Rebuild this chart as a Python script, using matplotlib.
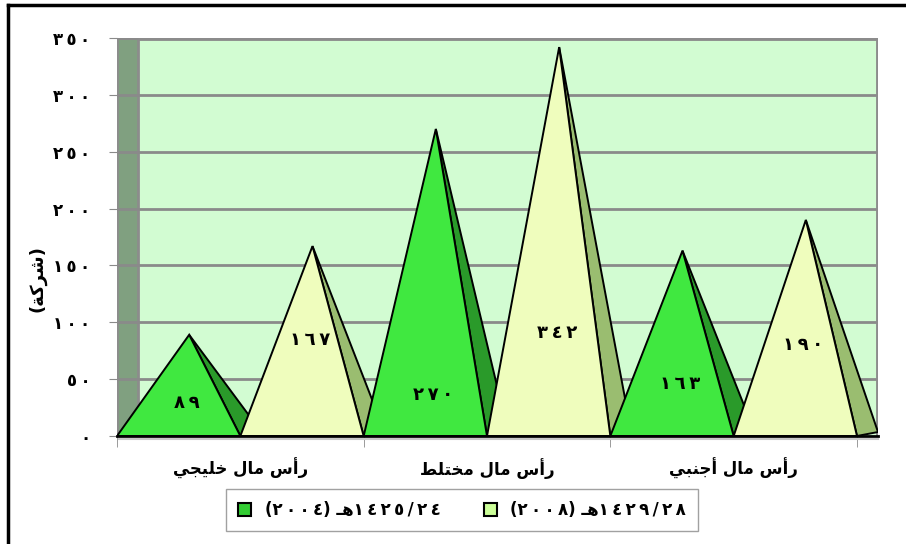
import matplotlib
matplotlib.use("Agg")
from matplotlib import pyplot as plt
from matplotlib.patches import Polygon, Rectangle
from matplotlib.lines import Line2D
import numpy as np

plt.rcParams['font.family'] = ['DejaVu Sans']

categories = ["رأس مال خليجي", "رأس مال مختلط", "رأس مال أجنبي"]
series_names = ["١٤٢٥/٢٤هـ (٢٠٠٤)", "١٤٢٩/٢٨هـ (٢٠٠٨)"]
values_2004 = [89, 270, 163]
values_2008 = [167, 342, 190]
y_ticks = [0, 50, 100, 150, 200, 250, 300, 350]
y_label = "(شركة)"

# where Excel put the value labels (in value units)
label_y_2004 = [29, 36, 46]
label_y_2008 = [84, 91, 80]

# --- tiny arabic shaping + bidi, matplotlib has no text shaping ---
FORMS = {
    'ا': (0xFE8D, 0xFE8E, None, None), 'أ': (0xFE83, 0xFE84, None, None),
    'ب': (0xFE8F, 0xFE90, 0xFE91, 0xFE92), 'ة': (0xFE93, 0xFE94, None, None),
    'ت': (0xFE95, 0xFE96, 0xFE97, 0xFE98), 'ج': (0xFE9D, 0xFE9E, 0xFE9F, 0xFEA0),
    'خ': (0xFEA5, 0xFEA6, 0xFEA7, 0xFEA8), 'ر': (0xFEAD, 0xFEAE, None, None),
    'س': (0xFEB1, 0xFEB2, 0xFEB3, 0xFEB4), 'ش': (0xFEB5, 0xFEB6, 0xFEB7, 0xFEB8),
    'ط': (0xFEC1, 0xFEC2, 0xFEC3, 0xFEC4), 'ك': (0xFED9, 0xFEDA, 0xFEDB, 0xFEDC),
    'ل': (0xFEDD, 0xFEDE, 0xFEDF, 0xFEE0), 'م': (0xFEE1, 0xFEE2, 0xFEE3, 0xFEE4),
    'ن': (0xFEE5, 0xFEE6, 0xFEE7, 0xFEE8), 'ه': (0xFEE9, 0xFEEA, 0xFEEB, 0xFEEC),
    'ي': (0xFEF1, 0xFEF2, 0xFEF3, 0xFEF4),
}
TATWEEL = 'ـ'
THIN = '\u2009'


def dual(c):
    return c == TATWEEL or (c in FORMS and FORMS[c][2] is not None)


def joinable(c):
    return c == TATWEEL or c in FORMS


def shape(s):
    out = []
    for i, c in enumerate(s):
        if c not in FORMS:
            out.append(c)
            continue
        prv = i > 0 and dual(s[i - 1])
        nxt = i < len(s) - 1 and dual(c) and joinable(s[i + 1])
        iso, fin, ini, med = FORMS[c]
        if prv and nxt:
            code = med
        elif prv:
            code = fin
        elif nxt:
            code = ini
        else:
            code = iso
        out.append(chr(code))
    return ''.join(out)


def is_num(c):
    return '\u0660' <= c <= '\u0669' or c == '/'


def ar(s, spaced=True):
    s = shape(s)
    runs = []
    for c in s:
        if runs and is_num(runs[-1][0]) == is_num(c):
            runs[-1] += c
        else:
            runs.append(c)
    mirror = {'(': ')', ')': '('}
    vis = []
    for r in reversed(runs):
        if is_num(r[0]):
            vis.append(THIN.join(r) if spaced else r)
        else:
            vis.append(''.join(mirror.get(c, c) for c in reversed(r)))
    return ''.join(vis)


def ar_digits(n):
    return THIN.join(chr(0x0660 + int(d)) for d in str(n))


# --- figure ---
W, H = 906, 544
fig = plt.figure(figsize=(W / 100, H / 100), dpi=100)
ax = fig.add_axes([117 / W, (H - 436) / H, 761 / W, 398 / H])

dx = 21 / 246.6      # depth of the 3d box, in category units
dy = 3.5             # same, in value units
half = 0.5           # each pyramid fills half a category

green_front, green_side = "#40e840", "#2a9a2a"
yel_front, yel_side = "#effdbd", "#9abd70"

ax.set_xlim(0, 3 + dx)
ax.set_ylim(0, 350)

# walls
ax.add_patch(Rectangle((dx, 0), 3, 350, facecolor="#d2fcd2", edgecolor="none", zorder=0))
ax.add_patch(Rectangle((0, 0), dx, 350, facecolor="#80a080", edgecolor="#8c8c8c", lw=2, zorder=1))
for t in y_ticks[1:]:
    ax.plot([0, 3 + dx], [t, t], color="#8a8a8a", lw=2, zorder=1)
ax.plot([dx, 3 + dx, 3 + dx], [350, 350, 0], color="#8c8c8c", lw=3.5, zorder=1,
        solid_capstyle="butt")

# pyramids, left to right so the later ones hide the earlier side faces
for i in range(len(categories)):
    for j, (vals, lys, fc, sc) in enumerate([(values_2004, label_y_2004, green_front, green_side),
                                             (values_2008, label_y_2008, yel_front, yel_side)]):
        x0 = i + j * half
        x1 = x0 + half
        v = vals[i]
        px = (x0 + x1) / 2 + dx / 2
        side = Polygon([(px, v), (x1, 0), (x1 + dx, dy)], closed=True,
                       facecolor=sc, edgecolor="black", lw=1.4, zorder=3)
        front = Polygon([(x0, 0), (x1, 0), (px, v)], closed=True,
                        facecolor=fc, edgecolor="black", lw=1.4, zorder=3)
        ax.add_patch(side)
        ax.add_patch(front)
        ax.text(px - 0.01, lys[i], ar_digits(v), ha="center", va="center",
                fontsize=13, fontweight="bold", zorder=4)

# floor edge
ax.plot([0, 3 + dx], [0, 0], color="black", lw=2, zorder=5, clip_on=False)
ax.plot([0.01, 3 + dx], [-2.5, -2.5], color="#c8c8c8", lw=1.5, zorder=5, clip_on=False)

for s in ax.spines.values():
    s.set_visible(False)

ax.set_yticks(y_ticks)
ax.set_yticklabels([ar_digits(t) for t in y_ticks], fontsize=12, fontweight="bold")
ax.tick_params(axis="y", length=6, color="#8a8a8a", pad=13)

ax.set_xticks([0.5, 1.5, 2.5])
ax.set_xticklabels([ar(c) for c in categories], fontsize=12, fontweight="bold")
ax.tick_params(axis="x", length=0, pad=16)
ax.set_xticks([0, 1, 2, 3], minor=True)
ax.tick_params(axis="x", which="minor", length=8, color="#8a8a8a")

ax.set_ylabel(ar(y_label), fontsize=13, fontweight="bold")
ax.yaxis.set_label_coords(-0.093, 0.395)

# legend
handles = [Rectangle((0, 0), 1, 1, facecolor="#33cc33", edgecolor="black", lw=1.5),
           Rectangle((0, 0), 1, 1, facecolor="#ccff99", edgecolor="black", lw=1.5)]
leg = fig.legend(handles, [ar(n) for n in series_names], ncol=2, loc="center",
                 bbox_to_anchor=(462 / W, (H - 510) / H), frameon=True, fancybox=False,
                 handlelength=0.8, handleheight=0.8, handletextpad=0.8, columnspacing=2.6,
                 prop={"size": 12, "weight": "bold"}, borderpad=0.7, borderaxespad=0)
leg.get_frame().set_edgecolor("#8a8a8a")
leg.get_frame().set_linewidth(1)

# outer chart border (cut off on the right and bottom)
fig.add_artist(Line2D([8 / W, 8 / W], [0, 1 - 5 / H], color="black", lw=2.5))
fig.add_artist(Line2D([8 / W, 1], [1 - 5 / H, 1 - 5 / H], color="black", lw=2.5))

fig.savefig("out.png", dpi=100)
